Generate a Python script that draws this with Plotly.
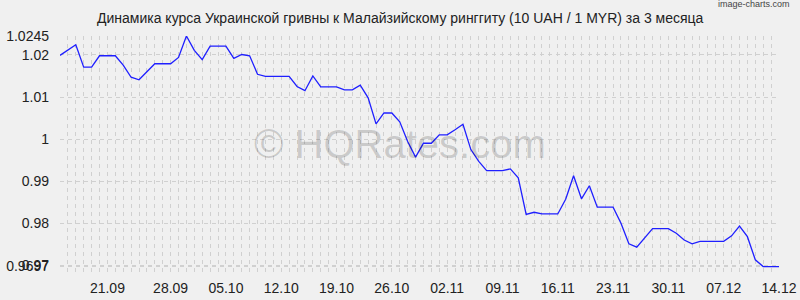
import plotly.graph_objects as go

# ---- data ----
rates = [
    1.0199, 1.0212, 1.0224, 1.0171, 1.0171, 1.0198, 1.0198, 1.0198, 1.0176, 1.0147,
    1.0141, 1.0160, 1.0179, 1.0179, 1.0179, 1.0194, 1.0245, 1.0211, 1.0189, 1.0221,
    1.0221, 1.0221, 1.0192, 1.0201, 1.0198, 1.0154, 1.0149, 1.0149, 1.0149, 1.0149,
    1.0125, 1.0115, 1.0150, 1.0124, 1.0124, 1.0124, 1.0117, 1.0117, 1.0128, 1.0098,
    1.0036, 1.0062, 1.0062, 1.0041, 0.9994, 0.9957, 0.9990, 0.9990, 1.0010, 1.0010,
    1.0022, 1.0035, 0.9975, 0.9947, 0.9925, 0.9925, 0.9925, 0.9929, 0.9908, 0.9821,
    0.9826, 0.9822, 0.9822, 0.9822, 0.9857, 0.9913, 0.9858, 0.9889, 0.9838, 0.9838,
    0.9838, 0.9800, 0.9751, 0.9743, 0.9766, 0.9787, 0.9787, 0.9787, 0.9776, 0.9760,
    0.9751, 0.9757, 0.9757, 0.9757, 0.9757, 0.9770, 0.9793, 0.9768, 0.9713, 0.9697,
    0.9697, 0.9697,
]
day_index = list(range(len(rates)))

x_tick_pos = [6, 14, 21, 28, 35, 42, 49, 56, 63, 70, 77, 84, 91]
x_tick_text = ["21.09", "28.09", "05.10", "12.10", "19.10", "26.10", "02.11",
               "09.11", "16.11", "23.11", "30.11", "07.12", "14.12"]

y_tick_vals = [0.9697, 0.97, 0.98, 0.99, 1.0, 1.01, 1.02, 1.0245]
y_tick_text = ["0.9697", "0.97", "0.98", "0.99", "1", "1.01", "1.02", "1.0245"]

title_text = "Динамика курса Украинской гривны к Малайзийскому ринггиту (10 UAH / 1 MYR) за 3 месяца"

FONT = "Liberation Sans, Arial, sans-serif"
GRID = "#d0d0d0"

fig = go.Figure()
fig.add_trace(go.Scatter(
    x=day_index, y=rates, mode="lines",
    line=dict(color="#1f1fff", width=1.3),
    hoverinfo="skip",
))

fig.update_layout(
    width=800, height=300,
    margin=dict(l=60, r=21, t=36, b=24),
    paper_bgcolor="#f0f0f0", plot_bgcolor="#f0f0f0",
    showlegend=False,
    font=dict(family=FONT, size=14, color="#222222"),
    xaxis=dict(
        range=[0, 91], showline=False, zeroline=False, automargin=False,
        tickmode="array", tickvals=x_tick_pos, ticktext=x_tick_text,
        ticks="", ticklabelstandoff=2,
        showgrid=True, gridcolor=GRID, gridwidth=1, griddash="4px,4px",
        minor=dict(dtick=1, tick0=0, showgrid=True, gridcolor=GRID,
                   gridwidth=1, griddash="4px,4px", ticks=""),
        tickfont=dict(size=14, color="#222222"),
    ),
    yaxis=dict(
        range=[0.96745, 1.0245], showline=False, zeroline=False, automargin=False,
        tickmode="array", tickvals=y_tick_vals, ticktext=y_tick_text,
        ticks="", ticklabelstandoff=10,
        showgrid=True, gridcolor=GRID, gridwidth=1, griddash="4px,4px",
        tickfont=dict(size=14, color="#222222"),
    ),
    annotations=[
        dict(text=title_text, xref="paper", yref="paper", x=0.473, y=1,
             xanchor="center", yanchor="bottom", yshift=8, showarrow=False,
             font=dict(family=FONT, size=14, color="#222222")),
        dict(text="image-charts.com", xref="paper", yref="paper", x=1, y=1,
             xanchor="right", yanchor="bottom", xshift=13, yshift=25, showarrow=False,
             font=dict(family=FONT, size=9, color="#444444")),
        dict(text="© HQRates.com", xref="paper", yref="paper", x=0.473, y=0.55,
             xanchor="center", yanchor="middle", showarrow=False,
             font=dict(family=FONT, size=40, color="rgba(0,0,0,0.17)")),
    ],
)

fig.write_html("out.html")
